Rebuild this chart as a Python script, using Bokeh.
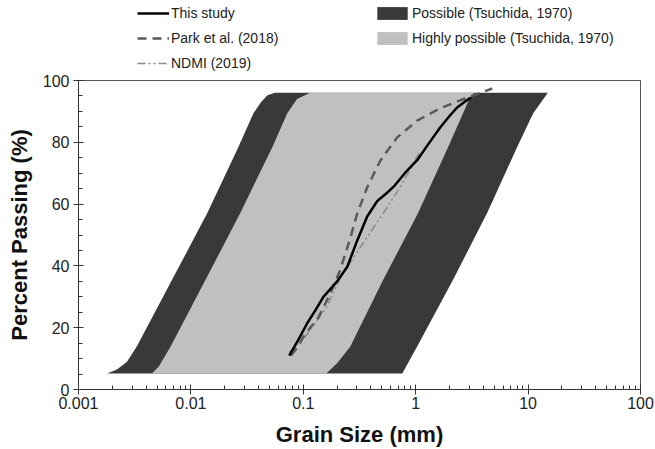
from bokeh.plotting import figure
from bokeh.layouts import column
from bokeh.models import (FixedTicker, CustomJSTickFormatter, Legend, LegendItem, Range1d)
from bokeh.embed import file_html
from bokeh.resources import INLINE

# ---- data ----
# Tsuchida (1970) envelope boundaries: grain size (mm) vs percent passing
possible_left_size = [0.0018, 0.0022, 0.0027, 0.0033, 0.0068, 0.0140, 0.0264, 0.036, 0.042, 0.048, 0.056]
possible_left_pct = [5.2, 6.5, 9.0, 13.9, 35.5, 57.1, 78.4, 89.4, 93.0, 95.2, 96.0]
possible_right_size = [0.76, 1.03, 2.15, 4.32, 7.98, 11.1, 15.0]
possible_right_pct = [5.2, 13.9, 35.5, 57.1, 78.4, 89.4, 96.0]
highly_left_size = [0.0045, 0.0052, 0.0066, 0.0135, 0.0275, 0.053, 0.072, 0.088, 0.115]
highly_left_pct = [5.2, 7.5, 13.9, 35.5, 57.1, 78.4, 89.4, 94.0, 96.0]
highly_right_size = [0.16, 0.20, 0.262, 0.514, 1.05, 1.94, 2.64, 3.0, 3.3]
highly_right_pct = [5.2, 8.5, 13.9, 35.5, 57.1, 78.4, 89.4, 94.0, 96.0]

# This study
study_size = [0.075, 0.09, 0.109, 0.13, 0.151, 0.2, 0.246, 0.3, 0.37, 0.455, 0.55, 0.65, 0.8, 1.03, 1.3, 1.65, 2.0, 2.34, 2.7, 3.1]
study_pct = [11.0, 16.0, 21.6, 26.0, 30.0, 35.0, 39.7, 48.0, 56.0, 61.0, 63.5, 66.0, 70.0, 74.2, 79.5, 84.8, 88.5, 91.3, 93.0, 94.5]
# Park et al. (2018)
park_size = [0.078, 0.09, 0.1, 0.115, 0.133, 0.174, 0.213, 0.262, 0.302, 0.371, 0.483, 0.685, 1.03, 1.65, 2.87, 4.8]
park_pct = [11.0, 14.0, 17.0, 20.0, 22.6, 31.0, 38.7, 49.0, 57.0, 65.5, 74.0, 81.6, 87.0, 91.0, 94.5, 97.4]
# NDMI (2019)
ndmi_size = [0.075, 0.109, 0.163, 0.213, 0.321, 0.514, 0.728, 1.07]
ndmi_pct = [12.0, 18.0, 27.0, 36.0, 46.0, 57.0, 65.5, 76.5]

x_ticks = [0.001, 0.01, 0.1, 1, 10, 100]
y_ticks = [0, 20, 40, 60, 80, 100]

FONT = "Liberation Sans"
DARK = "#393939"
LIGHT = "#c0c0c0"
STUDY = dict(line_color="black", line_width=2.5)
PARK = dict(line_color="#5a5a5a", line_width=2.5, line_dash="9 6")
NDMI = dict(line_color="#8a8a8a", line_width=1.5, line_dash="8 3 2 3 2 3")

# ---- main plot ----
p = figure(width=655, height=377, x_axis_type="log", output_backend="svg",
           toolbar_location=None, x_range=Range1d(0.001, 100), y_range=Range1d(0, 100),
           min_border_left=78, min_border_right=15, min_border_top=8, min_border_bottom=59)
p.background_fill_color = "white"
p.border_fill_color = "white"
p.outline_line_color = "#555555"
p.outline_line_width = 1
p.grid.visible = False

dark_x = possible_left_size + possible_right_size[::-1]
dark_y = possible_left_pct + possible_right_pct[::-1]
light_x = highly_left_size + highly_right_size[::-1]
light_y = highly_left_pct + highly_right_pct[::-1]

p.patch(dark_x, dark_y, fill_color=DARK, line_color=None)
p.patch(light_x, light_y, fill_color=LIGHT, line_color=None)
p.line(ndmi_size, ndmi_pct, **NDMI)
p.line(park_size, park_pct, **PARK)
p.line(study_size, study_pct, line_join="round", **STUDY)

minor_x = [m * 10.0 ** e for e in range(-3, 2) for m in range(2, 10)]
p.xaxis.ticker = FixedTicker(ticks=x_ticks, minor_ticks=minor_x)
p.xaxis.formatter = CustomJSTickFormatter(code="return tick.toString();")
p.yaxis.ticker = FixedTicker(ticks=y_ticks, minor_ticks=list(range(0, 101, 5)))

for ax in (p.xaxis[0], p.yaxis[0]):
    ax.axis_line_color = "#333333"
    ax.major_tick_line_color = "#333333"
    ax.minor_tick_line_color = "#333333"
    ax.major_tick_in = 5
    ax.major_tick_out = 5
    ax.minor_tick_in = 4
    ax.minor_tick_out = 0
    ax.major_label_text_font = FONT
    ax.major_label_text_font_size = "16px"
    ax.major_label_text_color = "#222222"
    ax.axis_label_text_font = FONT
    ax.axis_label_text_font_size = "22px"
    ax.axis_label_text_font_style = "bold"
    ax.axis_label_text_color = "#111111"

p.xaxis.axis_label = "Grain Size (mm)"
p.yaxis.axis_label = "Percent Passing (%)"
p.xaxis.major_label_standoff = 2
p.xaxis.axis_label_standoff = 10
p.yaxis.major_label_standoff = 4
p.yaxis.axis_label_standoff = 8

# ---- legend strip above the plot (its frame is aligned with the plot frame) ----
lf = figure(width=655, height=72, output_backend="svg", toolbar_location=None,
            x_range=Range1d(0, 1), y_range=Range1d(0, 1),
            x_axis_location=None, y_axis_location=None, min_border=0)
lf.grid.visible = False
lf.outline_line_color = None
lf.background_fill_color = "white"
lf.border_fill_color = "white"

# legend sample glyphs (placed outside the strip's visible range)
d_study = lf.line([2, 3], [2, 3], **STUDY)
d_park = lf.line([2, 3], [2, 3], **PARK)
d_ndmi = lf.line([2, 3], [2, 3], **NDMI)
d_dark = lf.patch([2, 3, 3], [2, 2, 3], fill_color=DARK, line_color=None)
d_light = lf.patch([2, 3, 3], [2, 2, 3], fill_color=LIGHT, line_color=None)

leg_lines = Legend(items=[LegendItem(label="This study", renderers=[d_study]),
                          LegendItem(label="Park et al. (2018)", renderers=[d_park]),
                          LegendItem(label="NDMI (2019)", renderers=[d_ndmi])],
                   location=(59, 1), orientation="vertical")
leg_patch = Legend(items=[LegendItem(label="Possible (Tsuchida, 1970)", renderers=[d_dark]),
                          LegendItem(label="Highly possible (Tsuchida, 1970)", renderers=[d_light])],
                   location=(295, 26), orientation="vertical")
for lg, gw, gh, st in ((leg_lines, 32, 16, 2), (leg_patch, 38, 16, 1)):
    lg.glyph_width = gw
    lg.glyph_height = gh
    lg.label_height = 16
    lg.spacing = 9
    lg.padding = 0
    lg.margin = 0
    lg.label_standoff = st
    lg.border_line_color = None
    lg.background_fill_alpha = 0
    lg.label_text_font = FONT
    lg.label_text_font_size = "14px"
    lg.label_text_color = "#222222"
    lf.add_layout(lg, "center")

layout = column(lf, p, spacing=0)
open("out.html", "w").write(file_html(layout, INLINE))
